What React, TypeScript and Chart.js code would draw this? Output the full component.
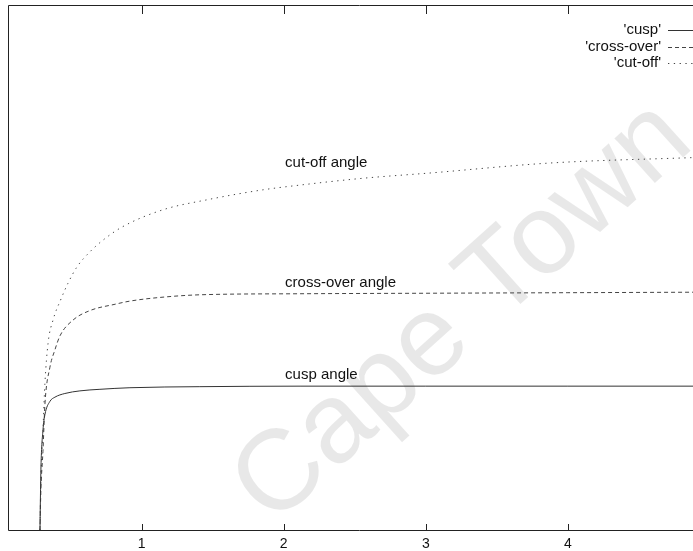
import { useEffect, useRef } from "react";
import { Chart, registerables } from "chart.js";

Chart.register(...registerables);

// ---- data ----
const cuspX = [0.285, 0.288, 0.292, 0.306, 0.32, 0.355, 0.39, 0.46, 0.566, 0.707, 0.918, 1.41, 2.115, 3.0, 4.0, 4.95];
const cuspY = [0, 6, 12, 19, 22, 24.5, 25.3, 26.0, 26.5, 26.8, 27.1, 27.3, 27.4, 27.4, 27.4, 27.4];

const crossX = [0.285, 0.288, 0.292, 0.306, 0.32, 0.355, 0.39, 0.426, 0.518, 0.637, 0.813, 0.918, 1.13, 1.41, 2.115, 3.03, 4.0, 4.95];
const crossY = [0, 4, 8, 15, 24, 31, 34.3, 37, 40, 41.8, 43.0, 43.6, 44.3, 44.8, 45.0, 45.1, 45.2, 45.3];

const cutX = [0.285, 0.288, 0.292, 0.306, 0.32, 0.342, 0.377, 0.433, 0.482, 0.545, 0.637, 0.728, 0.862, 1.151, 1.461, 1.855, 2.115, 2.559, 3.03, 3.874, 4.95];
const cutY = [0, 5, 10, 19, 28, 35.6, 40, 44, 47, 50.1, 53, 55.2, 57.7, 61, 62.9, 64.8, 65.7, 67, 68, 69.9, 71];

const seriesNames = ["'cusp'", "'cross-over'", "'cut-off'"];
const curveLabels = ["cusp angle", "cross-over angle", "cut-off angle"];
const curveLabelX = [2.01, 2.01, 2.01];
const curveLabelY = [29.5, 47.0, 69.9];
const xTicks = [1, 2, 3, 4];
const watermark = "Cape Town";

const toPoints = (xs: number[], ys: number[]) => xs.map((x, i) => ({ x, y: ys[i] }));

const FONT = "'Liberation Sans', Arial, Helvetica, sans-serif";

const decorPlugin = {
  id: "decor",
  beforeDatasetsDraw(chart: any) {
    const ctx = chart.ctx;
    const xs = chart.scales.x;
    const ys = chart.scales.y;
    // watermark
    ctx.save();
    const px = xs.getPixelForValue(1.92);
    const py = ys.getPixelForValue(0.5);
    ctx.translate(px, py);
    ctx.rotate((-42 * Math.PI) / 180);
    ctx.font = `114px ${FONT}`;
    ctx.fillStyle = "rgba(0,0,0,0.09)";
    ctx.textBaseline = "alphabetic";
    ctx.textAlign = "left";
    ctx.fillText(watermark, 0, 0);
    ctx.restore();
  },
  afterDatasetsDraw(chart: any) {
    const ctx = chart.ctx;
    const xs = chart.scales.x;
    const ys = chart.scales.y;
    const { left, right, top, bottom } = chart.chartArea;
    ctx.save();
    // frame
    ctx.strokeStyle = "#222";
    ctx.lineWidth = 1;
    ctx.setLineDash([]);
    ctx.beginPath();
    ctx.moveTo(Math.round(left) + 0.5, Math.round(top) + 0.5);
    ctx.lineTo(Math.round(right) + 0.5, Math.round(top) + 0.5);
    ctx.moveTo(Math.round(left) + 0.5, Math.round(top) + 0.5);
    ctx.lineTo(Math.round(left) + 0.5, Math.round(bottom) + 0.5);
    ctx.lineTo(Math.round(right) + 0.5, Math.round(bottom) + 0.5);
    ctx.stroke();
    // inward tick marks
    ctx.beginPath();
    xTicks.forEach((v) => {
      const x = Math.round(xs.getPixelForValue(v)) + 0.5;
      ctx.moveTo(x, bottom);
      ctx.lineTo(x, bottom - 6);
      ctx.moveTo(x, top);
      ctx.lineTo(x, top + 9);
    });
    ctx.stroke();
    // curve labels
    ctx.fillStyle = "#111";
    ctx.font = `15px ${FONT}`;
    ctx.textAlign = "left";
    ctx.textBaseline = "middle";
    curveLabels.forEach((t, i) => {
      ctx.fillText(t, xs.getPixelForValue(curveLabelX[i]), ys.getPixelForValue(curveLabelY[i]));
    });
    // key (legend) in top-right corner
    const ds = chart.data.datasets;
    ds.forEach((d: any, i: number) => {
      const y = top + 25 + i * 16.5;
      ctx.fillStyle = "#111";
      ctx.textAlign = "right";
      ctx.fillText(d.label, 661, y);
      ctx.strokeStyle = d.borderColor;
      ctx.lineWidth = 1;
      ctx.setLineDash(d.borderDash || []);
      ctx.beginPath();
      ctx.moveTo(668, Math.round(y) + 0.5);
      ctx.lineTo(700, Math.round(y) + 0.5);
      ctx.stroke();
    });
    ctx.restore();
  },
};

export default function App() {
  const ref = useRef<HTMLCanvasElement | null>(null);
  useEffect(() => {
    if (!ref.current) return;
    const chart = new Chart(ref.current, {
      type: "line",
      data: {
        datasets: [
          {
            label: seriesNames[0],
            data: toPoints(cuspX, cuspY),
            borderColor: "#333",
            borderWidth: 1,
            pointRadius: 0,
            cubicInterpolationMode: "monotone",
            borderDash: [],
          },
          {
            label: seriesNames[1],
            data: toPoints(crossX, crossY),
            borderColor: "#444",
            borderWidth: 1,
            pointRadius: 0,
            cubicInterpolationMode: "monotone",
            borderDash: [4, 3],
          },
          {
            label: seriesNames[2],
            data: toPoints(cutX, cutY),
            borderColor: "#444",
            borderWidth: 1,
            pointRadius: 0,
            cubicInterpolationMode: "monotone",
            borderDash: [1.3, 4.5],
          },
        ],
      },
      options: {
        animation: false,
        responsive: false,
        maintainAspectRatio: false,
        layout: { padding: { left: 8, top: 5, right: 10, bottom: 0 } },
        plugins: { legend: { display: false }, tooltip: { enabled: false } },
        scales: {
          x: {
            type: "linear",
            min: 0.06,
            max: 5,
            grid: { display: false, drawTicks: false, tickLength: 0 },
            border: { display: false },
            afterBuildTicks: (scale: any) => {
              scale.ticks = xTicks.map((v) => ({ value: v }));
            },
            afterFit: (scale: any) => {
              scale.height = 21;
            },
            ticks: {
              padding: 7,
              color: "#111",
              font: { family: FONT, size: 14, lineHeight: 1 },
              maxRotation: 0,
              autoSkip: false,
            },
          },
          y: {
            type: "linear",
            min: 0,
            max: 100,
            display: false,
          },
        },
      },
      plugins: [decorPlugin],
    } as any);
    return () => chart.destroy();
  }, []);
  return (
    <div
      style={{
        position: "fixed",
        left: 0,
        top: 0,
        width: 693,
        height: 551,
        overflow: "hidden",
        background: "#fff",
      }}
    >
      <canvas ref={ref} width={720} height={551} style={{ display: "block" }} />
    </div>
  );
}
